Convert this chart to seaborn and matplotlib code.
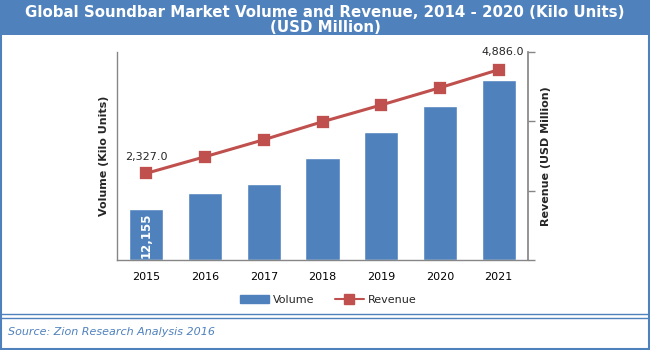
import matplotlib
matplotlib.use("Agg")
import matplotlib.pyplot as plt
from matplotlib.patches import Rectangle, Patch
from matplotlib.lines import Line2D
import seaborn as sns
import pandas as pd

years = ["2015", "2016", "2017", "2018", "2019", "2020", "2021"]
volume = [12155, 16180, 18340, 24590, 30770, 37020, 43270]
revenue = [2327.0, 2737, 3156, 3601, 4014, 4441, 4886.0]

title = "Global Soundbar Market Volume and Revenue, 2014 - 2020 (Kilo Units)\n(USD Million)"
source = "Source: Zion Research Analysis 2016"

BLUE = "#4F81BD"
RED = "#C0504D"
GRAY = "#868686"

sns.set_theme(style="white")
plt.rcParams["font.family"] = ["DejaVu Sans"]

df = pd.DataFrame({"Year": years, "Volume": volume, "Revenue": revenue})

fig = plt.figure(figsize=(6.5, 3.5), dpi=100)
ax = fig.add_axes([117/650, 1-260/350, (528-117)/650, (260-52)/350])

sns.barplot(data=df, x="Year", y="Volume", color=BLUE, saturation=1, width=0.58, ax=ax)
ax.set_ylim(0, 50000)
ax.set_xlim(-0.5, 6.5)
ax.set_yticks([])
ax.set_xlabel("")
ax.set_ylabel("Volume (Kilo Units)", fontsize=8, fontweight="bold", labelpad=6)
for s in ["top", "right"]:
    ax.spines[s].set_visible(False)
for s in ["left", "bottom"]:
    ax.spines[s].set_color(GRAY)
    ax.spines[s].set_linewidth(1)
ax.tick_params(axis="x", length=0, labelsize=8, pad=9, colors="black")

ax2 = ax.twinx()
sns.pointplot(data=df, x="Year", y="Revenue", color=RED, markers="s", ax=ax2,
              linewidth=2.2, markersize=6.5)
ax2.set_xlim(-0.5, 6.5)
ax2.set_ylim(185, 5323)
ax2.set_yticks([185, 1898, 3610, 5323])
ax2.set_yticklabels([])
ax2.set_ylabel("Revenue (USD Million)", fontsize=8, fontweight="bold", labelpad=4)
for s in ["top", "left", "bottom"]:
    ax2.spines[s].set_visible(False)
ax2.spines["right"].set_color(GRAY)
ax2.tick_params(axis="y", right=True, length=5, color=GRAY, direction="out", width=1, pad=0)

# data labels
ax2.annotate(f"{revenue[0]:,.1f}", (0, revenue[0]), xytext=(0, 8), textcoords="offset points",
             ha="center", va="bottom", fontsize=8)
ax2.annotate(f"{revenue[-1]:,.1f}", (6, revenue[-1]), xytext=(3, 9), textcoords="offset points",
             ha="center", va="bottom", fontsize=8)
ax.text(0, volume[0] * 0.48, f"{volume[0]:,}", rotation=90, ha="center", va="center",
        color="white", fontsize=8.5, fontweight="bold")

# legend
handles = [Patch(facecolor=BLUE, edgecolor=BLUE),
           Line2D([], [], color=RED, marker="s", markersize=6.5, linewidth=1.5)]
fig.legend(handles, ["Volume", "Revenue"], loc="center", bbox_to_anchor=(0.505, 1-300/350),
           ncol=2, frameon=False, fontsize=8, handlelength=2.6, columnspacing=1.8,
           handletextpad=0.4)

# title banner
fig.patches.append(Rectangle((0, 1-35/350), 1, 35/350, transform=fig.transFigure,
                             facecolor=BLUE, edgecolor="none", zorder=0))
fig.text(0.5, 1-20/350, title, ha="center", va="center", color="white",
         fontsize=10.8, fontweight="bold", linespacing=1.0)

# frame and source box
fig.patches.append(Rectangle((1/650, 1/350), 648/650, 348/350, transform=fig.transFigure,
                             facecolor="none", edgecolor=BLUE, linewidth=1.5))
for yy in (314, 318):
    fig.add_artist(Line2D([0, 1], [1-yy/350, 1-yy/350], transform=fig.transFigure,
                          color=BLUE, linewidth=1))
fig.text(8/650, 1-332/350, source, ha="left", va="center", color=BLUE,
         fontsize=8, style="italic")

fig.savefig("out.png", dpi=100)
